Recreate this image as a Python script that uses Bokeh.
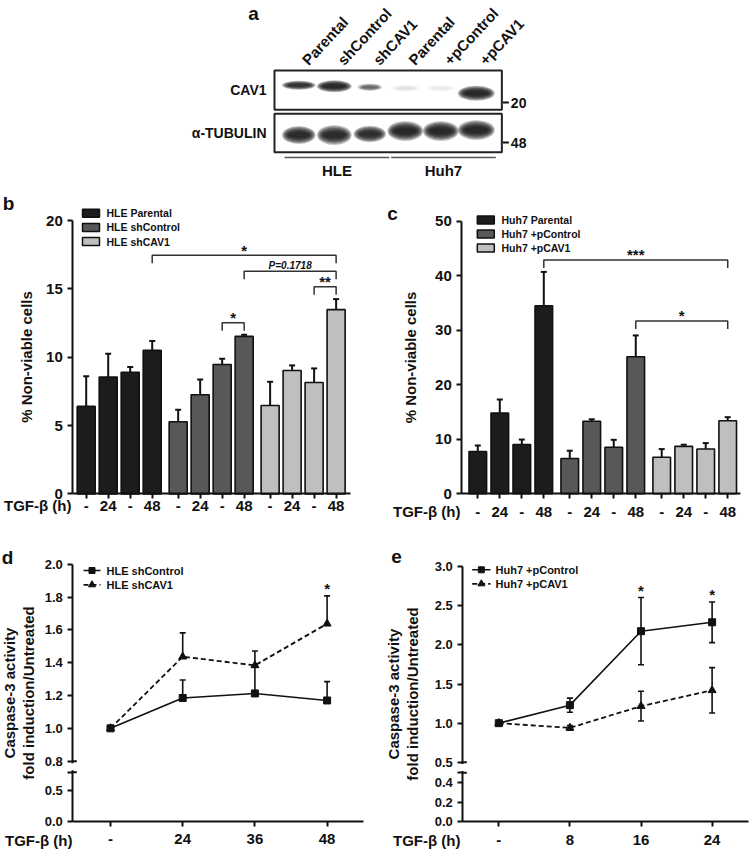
from bokeh.plotting import figure
from bokeh.layouts import column, row
from bokeh.models import Range1d, FixedTicker, Label, Whisker, TeeHead, ColumnDataSource
from bokeh.core.properties import value
from bokeh.embed import file_html
from bokeh.resources import INLINE

FONT = "Liberation Sans"
INK = "#111111"
BAR_COLORS = ["#1c1c1c", "#585858", "#bfbfbf"]

# ---------------- data ----------------
# panel a : western blot
blot_lanes = ["Parental", "shControl", "shCAV1", "Parental", "+pControl", "+pCAV1"]
blot_cell_lines = ["HLE", "Huh7"]
blot_rows = ["CAV1", "\u03b1-TUBULIN"]
blot_markers = ["20", "48"]
cav1_signal = [0.85, 1.0, 0.45, 0.05, 0.04, 1.0]
tubulin_signal = [0.95, 0.95, 0.9, 1.0, 1.0, 1.0]

# panel b
tgf_bar_labels = ["-", "24", "-", "48"]
b_series = ["HLE Parental", "HLE shControl", "HLE shCAV1"]
b_parental = [6.4, 8.55, 8.9, 10.5]
b_parental_sem = [2.2, 1.7, 0.38, 0.68]
b_shcontrol = [5.28, 7.25, 9.47, 11.52]
b_shcontrol_sem = [0.87, 1.12, 0.42, 0.13]
b_shcav1 = [6.47, 9.03, 8.15, 13.48]
b_shcav1_sem = [1.73, 0.37, 1.03, 0.77]
b_yticks = [0, 5, 10, 15, 20]
b_sig = [(3, 11, 17.45, "*"), (7, 11, 16.28, "P=0.1718"), (10, 11, 15.16, "**"), (6, 7, 12.52, "*")]

# panel c
c_series = ["Huh7 Parental", "Huh7 +pControl", "Huh7 +pCAV1"]
c_parental = [7.75, 14.8, 9.03, 34.5]
c_parental_sem = [1.1, 2.5, 0.92, 6.2]
c_pcontrol = [6.47, 13.3, 8.54, 25.15]
c_pcontrol_sem = [1.43, 0.37, 1.36, 3.9]
c_pcav1 = [6.7, 8.7, 8.23, 13.4]
c_pcav1_sem = [1.5, 0.3, 1.07, 0.65]
c_yticks = [0, 10, 20, 30, 40, 50]
c_sig = [(3, 11, 42.9, "***"), (7, 11, 31.7, "*")]

# panel d
d_times = ["-", "24", "36", "48"]
d_series = ["HLE shControl", "HLE shCAV1"]
d_shcontrol = [1.0, 1.185, 1.213, 1.17]
d_shcontrol_sem = [0.0, 0.11, 0.16, 0.115]
d_shcav1 = [1.0, 1.437, 1.384, 1.638]
d_shcav1_sem = [0.0, 0.145, 0.088, 0.17]
d_star = [3]
d_yticks_top = [0.8, 1.0, 1.2, 1.4, 1.6, 1.8, 2.0]
d_yticks_bottom = [0.0, 0.5]

# panel e
e_times = ["-", "8", "16", "24"]
e_series = ["Huh7 +pControl", "Huh7 +pCAV1"]
e_pcontrol = [1.0, 1.23, 2.176, 2.29]
e_pcontrol_sem = [0.0, 0.09, 0.43, 0.26]
e_pcav1 = [1.0, 0.94, 1.217, 1.42]
e_pcav1_sem = [0.0, 0.03, 0.19, 0.29]
e_star = [2, 3]
e_yticks_top = [0.5, 1.0, 1.5, 2.0, 2.5, 3.0]
e_yticks_bottom = [0.0, 0.2, 0.4]


# ---------------- helpers ----------------
def full_fig(box, dx, dy, axes=True):
    L, T, R, B = box
    kw = {} if axes else dict(x_axis_location=None, y_axis_location=None)
    p = figure(width=R - L, height=B - T, x_range=Range1d(dx(L), dx(R)),
               y_range=Range1d(dy(B), dy(T)), output_backend="svg",
               toolbar_location=None, title=None, min_border=0,
               min_border_left=0, min_border_right=0, min_border_top=0, min_border_bottom=0, **kw)
    p.outline_line_color = None
    p.grid.visible = False
    p.background_fill_color = "white"
    p.border_fill_color = "white"
    return p


def style_axis(ax, size):
    ax.axis_line_width = 2
    ax.axis_line_color = INK
    ax.major_tick_line_width = 2
    ax.major_tick_line_color = INK
    ax.major_tick_out = 5
    ax.major_tick_in = 0
    ax.minor_tick_line_color = None
    ax.major_label_text_font = FONT
    ax.major_label_text_font_style = "bold"
    ax.major_label_text_font_size = size
    ax.major_label_text_color = INK
    ax.axis_label_text_font = FONT
    ax.axis_label_text_font_style = "bold"
    ax.axis_label_text_font_size = "15px"
    ax.axis_label_text_color = INK


def txt(p, xs, ys, texts, size, align="left", baseline="middle", style="bold", angle=0.0):
    p.text(x=xs, y=ys, text=texts, text_font=value(FONT), text_font_size=size,
           text_font_style=style, text_align=align, text_baseline=baseline,
           angle=angle, text_color=INK)


# ---------------- panel a ----------------
LANE_PX, ROW_PX = 35.5, 42.8
LANE0_REF, ROW0_REF = 298.3, 132.5
CAV1_W = [30, 31, 22, 26, 26, 33]
CAV1_H = [6, 8, 5, 5, 5, 10]
CAV1_DY = [-5, -4, -3, -2, -2, 3]
TUB_W = [30, 31, 29, 32, 32, 33]
TUB_H = [12, 13, 11, 13, 13, 13]
TUB_DY = [2, 2, 1, -2, -2, -3]


def ax_(rx):
    return (rx - LANE0_REF) / LANE_PX


def ay_(ry):
    return (ROW0_REF - ry) / ROW_PX


pa = full_fig((0, 0, 750, 178), ax_, ay_, axes=False)
bx, by, bw, bh, ba = [], [], [], [], []
for row_y, sig, wpx, hpx, dypx in [(1, cav1_signal, CAV1_W, CAV1_H, CAV1_DY),
                                   (0, tubulin_signal, TUB_W, TUB_H, TUB_DY)]:
    for i, s in enumerate(sig):
        for j in range(7):
            bx.append(i)
            by.append(row_y - dypx[i] / ROW_PX)
            bw.append(wpx[i] * (1.12 - 0.07 * j) / LANE_PX)
            bh.append(hpx[i] * (1.5 - 0.17 * j) / ROW_PX)
            ba.append(0.28 * s)
pa.ellipse(x=bx, y=by, width=bw, height=bh, fill_color=INK, fill_alpha=ba, line_color=None)
n_lanes = len(blot_lanes)
box_l, box_r = -0.685, n_lanes - 1 + 0.72
pa.rect(x=[(box_l + box_r) / 2] * 2, y=[1, 0], width=box_r - box_l, height=[0.918, 0.897],
        fill_color=None, line_color="#222222", line_width=2)
txt(pa, [i + 6 / LANE_PX for i in range(n_lanes)], [ay_(62)] * n_lanes, blot_lanes, "15px",
    baseline="alphabetic", angle=0.82)
txt(pa, [ax_(266)] * 2, [1, 0], blot_rows, "14px", align="right")
mk_y = [1 - 12.3 / ROW_PX, 0 - 9.5 / ROW_PX]
pa.segment(x0=[box_r + 1 / LANE_PX] * 2, y0=mk_y, x1=[box_r + 7 / LANE_PX] * 2, y1=mk_y,
           line_color=INK, line_width=2)
txt(pa, [box_r + 9 / LANE_PX] * 2, mk_y, blot_markers, "14px")
groups = [(0, 2), (3, 5)]
ul_y = ay_(157)
pa.segment(x0=[g[0] - 0.4 for g in groups], y0=[ul_y] * 2, x1=[g[1] + 0.55 for g in groups],
           y1=[ul_y] * 2, line_color="#555555", line_width=1.6)
txt(pa, [(g[0] - 0.4 + g[1] + 0.55) / 2 for g in groups], [ay_(170)] * 2, blot_cell_lines, "15px",
    align="center")
txt(pa, [ax_(253)], [ay_(13)], ["a"], "19px", align="center")

# ---------------- panels b / c ----------------
GROUP_STEP = 4.18


def bar_panel(box, px_x, px_y, first_ref, zero_ref, axis_x_ref, x_end_ref, bar_w,
              names, vals, sems, sig, yticks, letter, letter_ref, legend_ref, legend_step,
              legend_text_x, tgf_ref, label_standoff, x_standoff):
    def dx(rx):
        return (rx - first_ref) / px_x

    def dy(ry):
        return (zero_ref - ry) / px_y

    p = full_fig(box, dx, dy)

    xs, tops, ups, cols = [], [], [], []
    for g in range(len(vals)):
        for k in range(len(vals[g])):
            xs.append(g * GROUP_STEP + k)
            tops.append(vals[g][k])
            ups.append(vals[g][k] + sems[g][k])
            cols.append(BAR_COLORS[g])
    src = ColumnDataSource(dict(x=xs, top=tops, upper=ups, color=cols))
    p.add_layout(Whisker(source=src, base="x", lower="top", upper="upper", line_color=INK,
                         line_width=2, upper_head=TeeHead(size=6, line_color=INK, line_width=2),
                         lower_head=None))
    p.vbar(x="x", top="top", bottom=0, width=bar_w, fill_color="color", line_color=INK,
           line_width=1.6, source=src)

    xa, ya = p.xaxis[0], p.yaxis[0]
    style_axis(xa, "15px")
    style_axis(ya, "15px")
    xa.fixed_location = 0
    ya.fixed_location = dx(axis_x_ref)
    xa.ticker = FixedTicker(ticks=xs)
    xa.major_label_overrides = {x: tgf_bar_labels[i % len(tgf_bar_labels)] for i, x in enumerate(xs)}
    xa.major_label_standoff = x_standoff
    xa.bounds = (dx(axis_x_ref), dx(x_end_ref))
    ya.ticker = FixedTicker(ticks=yticks)
    ya.bounds = (0, yticks[-1])
    ya.major_label_standoff = 5
    ya.axis_label = "% Non-viable cells"
    ya.axis_label_standoff = label_standoff

    # legend
    n = len(names)
    ly = [dy(legend_ref[1] + i * legend_step) for i in range(n)]
    p.rect(x=[dx(legend_ref[0])] * n, y=ly, width=17 / px_x, height=8 / px_y,
           fill_color=BAR_COLORS[:n], line_color=INK, line_width=1.5)
    txt(p, [dx(legend_text_x)] * n, ly, names, "10.5px")

    # significance brackets
    drop = 8 / px_y
    mxs, mys = [], []
    for i, j, lvl, t in sig:
        mxs.append([xs[i], xs[i], xs[j], xs[j]])
        mys.append([lvl - drop, lvl, lvl, lvl - drop])
        if t.startswith("P"):
            txt(p, [(xs[i] + xs[j]) / 2], [lvl + 6 / px_y], [t], "10px", align="center",
                style="bold italic")
        else:
            txt(p, [(xs[i] + xs[j]) / 2], [lvl + 5 / px_y], [t], "15px", align="center")
    p.multi_line(mxs, mys, line_color="#333333", line_width=1.5)

    txt(p, [dx(letter_ref[0])], [dy(letter_ref[1])], [letter], "19px", align="center")
    txt(p, [dx(tgf_ref[0])], [dy(tgf_ref[1])], ["TGF-\u03b2 (h)"], "15px", align="right")
    return p


pb = bar_panel((0, 178, 375, 540), 22.0, 13.67, 85.7, 493.4, 72.3, 350, 0.82,
               b_series, [b_parental, b_shcontrol, b_shcav1],
               [b_parental_sem, b_shcontrol_sem, b_shcav1_sem], b_sig, b_yticks,
               "b", (8, 203), (90.5, 212.7), 14.2, 106, (71, 505), 8, 2)

pc = bar_panel((375, 178, 750, 540), 22.0, 5.452, 477.3, 493.3, 461.3, 740, 0.80,
               c_series, [c_parental, c_pcontrol, c_pcav1],
               [c_parental_sem, c_pcontrol_sem, c_pcav1_sem], c_sig, c_yticks,
               "c", (392, 213), (485.3, 219.4), 14.0, 501, (460, 511), 13, 8)


# ---------------- panels d / e ----------------
def line_panel(box, px_x, first_ref, zero_ref, axis_x_ref, x_end_ref, px_top, px_bottom, gap_px,
               times, names, vals, sems, two_sided, star_idx, top_ticks, bottom_ticks,
               letter, letter_ref, legend_rows, legend_line, legend_text_x, tgf_ref, label_standoff):
    split = top_ticks[0]
    brk = split - gap_px / px_top
    ratio = px_bottom / px_top

    def disp(v):
        return brk - (split - v) * ratio

    y0 = disp(0.0)

    def dx(rx):
        return (rx - first_ref) / px_x

    def dy(ry):
        return y0 + (zero_ref - ry) / px_top

    p = full_fig(box, dx, dy)

    xs = list(range(len(times)))
    styles = [dict(dash="solid", marker="square", size=7, lw=1.6),
              dict(dash="5 3", marker="triangle", size=8, lw=1.8)]
    for s in range(len(vals)):
        st = styles[s]
        keep = [i for i in xs if sems[s][i] > 0]
        src = ColumnDataSource(dict(
            x=[xs[i] for i in keep],
            lower=[vals[s][i] - (sems[s][i] if two_sided else 0.0) for i in keep],
            upper=[vals[s][i] + sems[s][i] for i in keep]))
        p.add_layout(Whisker(source=src, base="x", lower="lower", upper="upper", line_color=INK,
                             line_width=1.6,
                             upper_head=TeeHead(size=6, line_color=INK, line_width=1.6),
                             lower_head=(TeeHead(size=6, line_color=INK, line_width=1.6)
                                         if two_sided else None)))
        p.line(xs, vals[s], line_color=INK, line_width=st["lw"], line_dash=st["dash"])
        p.scatter(xs, vals[s], marker=st["marker"], size=st["size"], fill_color=INK, line_color=INK)
        # legend entry
        yy = dy(legend_rows[s])
        lx0, lx1 = dx(legend_line[0]), dx(legend_line[1])
        p.line([lx0, lx1], [yy, yy], line_color=INK, line_width=st["lw"], line_dash=st["dash"])
        p.scatter([(lx0 + lx1) / 2], [yy], marker=st["marker"], size=st["size"] - 1,
                  fill_color=INK, line_color=INK)
    txt(p, [dx(legend_text_x)] * len(names), [dy(r) for r in legend_rows], names, "11px")

    for i in star_idx:
        top = max(vals[s][i] + sems[s][i] for s in range(len(vals)))
        txt(p, [i], [top + 7 / px_top], ["*"], "15px", align="center")

    xa, ya = p.xaxis[0], p.yaxis[0]
    style_axis(xa, "15px")
    style_axis(ya, "13px")
    xa.fixed_location = y0
    ya.fixed_location = dx(axis_x_ref)
    xa.ticker = FixedTicker(ticks=xs)
    xa.major_label_overrides = {i: t for i, t in enumerate(times)}
    xa.major_label_standoff = 8
    xa.bounds = (dx(axis_x_ref), dx(x_end_ref))
    yt = [disp(t) for t in bottom_ticks] + [brk] + list(top_ticks)
    ov = {disp(t): f"{t:.1f}" for t in bottom_ticks}
    ov[brk] = ""
    ov.update({t: f"{t:.1f}" for t in top_ticks})
    ya.ticker = FixedTicker(ticks=yt)
    ya.major_label_overrides = ov
    ya.bounds = (y0, top_ticks[-1])
    ya.major_label_standoff = 5
    ya.axis_label = "Caspase-3 activity\nfold induction/Untreated"
    ya.axis_label_standoff = label_standoff
    ya.axis_label_text_line_height = 1.15

    # axis break: inner caps and gap
    ax0 = dx(axis_x_ref)
    p.segment(x0=[ax0, ax0], y0=[split, brk], x1=[ax0 + 4 / px_x] * 2, y1=[split, brk],
              line_color=INK, line_width=2)
    p.add_layout(Label(x=ax0, y=(split + brk) / 2, text="  ", text_font_size="7px",
                       text_align="center", text_baseline="middle",
                       background_fill_color="white", background_fill_alpha=1.0))

    txt(p, [dx(letter_ref[0])], [dy(letter_ref[1])], [letter], "19px", align="center")
    txt(p, [dx(tgf_ref[0])], [dy(tgf_ref[1])], ["TGF-\u03b2 (h)"], "15px", align="right")
    return p


pd_ = line_panel((0, 540, 375, 852), 72.2, 110.0, 820.7, 72.3, 363, 164.0, 61.3, 11.0,
                 d_times, d_series, [d_shcontrol, d_shcav1], [d_shcontrol_sem, d_shcav1_sem],
                 False, d_star, d_yticks_top, d_yticks_bottom,
                 "d", (7, 557), [570, 584.3], (83, 100), 106, (72, 840), 4)

pe_ = line_panel((375, 540, 750, 852), 71.1, 498.3, 821.3, 462.3, 748, 78.2, 98.3, 10.4,
                 e_times, e_series, [e_pcontrol, e_pcav1], [e_pcontrol_sem, e_pcav1_sem],
                 True, e_star, e_yticks_top, e_yticks_bottom,
                 "e", (396, 556), [569.3, 583.3], (471.7, 490), 495, (460, 840), 10)

layout = column(pa, row(pb, pc), row(pd_, pe_))
open("out.html", "w").write(file_html(layout, INLINE, "Figure"))
